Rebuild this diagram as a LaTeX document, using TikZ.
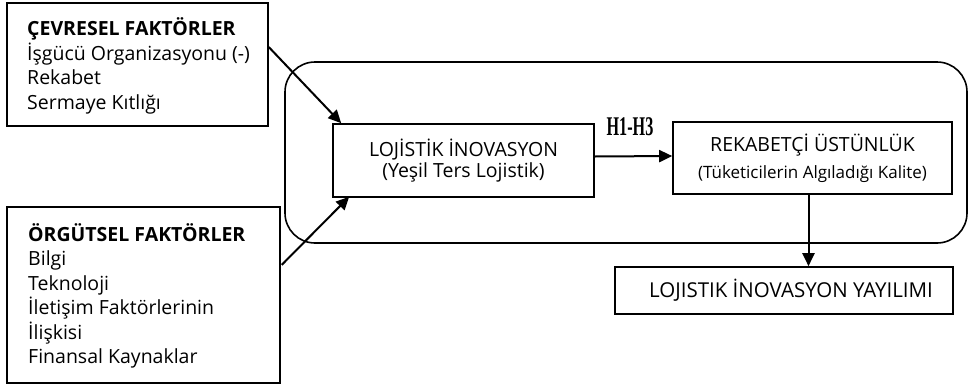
\documentclass[tikz,border=0pt]{standalone}
\usepackage{fontspec}
\setmainfont{Open Sans}
\newfontfamily\hfont{Liberation Serif}
\usetikzlibrary{arrows.meta,calc}
\begin{document}
\begin{tikzpicture}[x=1pt,y=-1pt,
  box/.style={draw,line width=1.6pt,inner sep=0pt},
  txt/.style={align=left,inner sep=0pt,anchor=west},
  conn/.style={line width=2pt,-{Triangle[length=13pt,width=12pt]}},
  every node/.style={font=\fontsize{19.5}{24.5}\selectfont}]
\useasboundingbox (0,0) rectangle (970,389);
% left boxes
\node[box,minimum width=261pt,minimum height=123pt] (b1) at (137.5,64.5) {};
\node[txt] (b1t) at (27,66)
  {\textbf{ÇEVRESEL FAKTÖRLER}\\İşgücü Organizasyonu (-)\\Rekabet\\Sermaye Kıtlığı};
\node[box,minimum width=273pt,minimum height=176pt] (b2) at (143.5,295) {};
\node[txt] (b2t) at (28,296)
  {\textbf{ÖRGÜTSEL FAKTÖRLER}\\Bilgi\\Teknoloji\\İletişim Faktörlerinin\\İlişkisi\\Finansal Kaynaklar};
% rounded frame
\draw[line width=1.6pt,rounded corners=30pt] (285,62) rectangle (967,243);
% inner boxes
\node[box,align=center,minimum width=261pt,minimum height=73pt,font=\fontsize{19.5}{21}\selectfont] (loj) at (463.5,160.5)
  {LOJİSTİK İNOVASYON\\(Yeşil Ters Lojistik)};
\node[box,align=center,minimum width=279pt,minimum height=72pt,font=\fontsize{19.5}{27}\selectfont] (rek) at (812.5,158)
  {REKABETÇİ ÜSTÜNLÜK\\{\fontsize{17}{27}\selectfont(Tüketicilerin Algıladığı Kalite)}};
\node[box,minimum width=338pt,minimum height=47pt,font=\fontsize{20.5}{24}\selectfont] (yay) at (784,290.5)
  {\hspace{14pt}LOJISTIK İNOVASYON YAYILIMI};
% label
\node (h) at (630,127) {\hfont\fontsize{27}{27}\selectfont\bfseries\scalebox{0.6}[1]{H1-H3}};
% connectors
\coordinate (d1) at ($(rek.south)+(-4,0)$);
\draw[conn] ($(b1.north east)!0.36!(b1.south east)$) -- ($(loj.north west)+(9,0)$);
\draw[conn] ($(b2.north east)!0.33!(b2.south east)+(1,0)$) -- ($(loj.south west)+(17,-1)$);
\draw[conn] ($(loj.east)+(0,-4)$) -- ($(rek.west)+(0,-2)$);
\draw[conn] (d1) -- (d1 |- yay.north);
\end{tikzpicture}
\end{document}
